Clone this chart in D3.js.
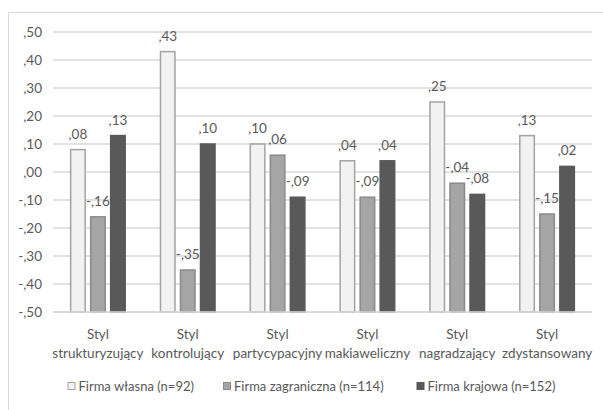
<!DOCTYPE html>
<html>
<head>
<meta charset="utf-8">
<script src="https://cdn.jsdelivr.net/npm/d3@7"></script>
<style>
  html, body { margin: 0; padding: 0; background: #fff; }
  svg { display: block; }
  text { font-family: Lato, "Open Sans", sans-serif; font-weight: 400; }
</style>
</head>
<body>
<svg id="chart" width="603" height="410"></svg>
<script>
// Leadership styles by firm type (mean scores)
const categories = ["strukturyzujący", "kontrolujący", "partycypacyjny", "makiaweliczny", "nagradzający", "zdystansowany"];
const categoryPrefix = "Styl";
const seriesNames = ["Firma własna (n=92)", "Firma zagraniczna (n=114)", "Firma krajowa (n=152)"];
const firmaWlasna = [0.08, 0.43, 0.10, 0.04, 0.25, 0.13];
const firmaZagraniczna = [-0.16, -0.35, 0.06, -0.09, -0.04, -0.15];
const firmaKrajowa = [0.13, 0.10, -0.09, 0.04, -0.08, 0.02];
const yTicks = [-0.5, -0.4, -0.3, -0.2, -0.1, 0, 0.1, 0.2, 0.3, 0.4, 0.5];

const seriesValues = [firmaWlasna, firmaZagraniczna, firmaKrajowa];
const fills = ["#f2f2f2", "#a5a5a5", "#595959"];
const strokes = ["#a3a3a3", "#8a8a8a", "#595959"];
const textColor = "#595959";

// Polish-style number format: ",43", "-,16", ",00"
const fmt = v => {
  const s = Math.abs(v).toFixed(2).replace(/^0/, "").replace(".", ",");
  return (v < 0 ? "-" : "") + s;
};

const svg = d3.select("#chart");

// Outer chart frame (left and top edges visible)
svg.append("path")
  .attr("d", "M8.5,410 L8.5,12.5 L603,12.5")
  .attr("fill", "none").attr("stroke", "#d9d9d9").attr("stroke-width", 1);

const plot = { left: 53, right: 592, top: 32, bottom: 312 };

const y = d3.scaleLinear().domain([-0.5, 0.5]).range([plot.bottom, plot.top]);
const x0 = d3.scaleBand().domain(categories).range([plot.left, plot.right])
  .paddingInner(0.376).paddingOuter(0.188);
const x1 = d3.scaleBand().domain(d3.range(seriesNames.length)).range([0, x0.bandwidth()])
  .paddingInner(0.2);

// Gridlines
svg.append("g").selectAll("line").data(yTicks).join("line")
  .attr("x1", plot.left).attr("x2", plot.right)
  .attr("y1", d => y(d)).attr("y2", d => y(d))
  .attr("stroke", "#d9d9d9").attr("stroke-width", 1.3);

// Y axis labels
const yAxis = d3.axisLeft(y).tickValues(yTicks).tickFormat(fmt).tickSize(0).tickPadding(0);
const yg = svg.append("g").attr("transform", `translate(42,0)`).call(yAxis);
yg.select(".domain").remove();
yg.selectAll("text").attr("font-size", 13.5).attr("fill", textColor)
  .style("font-family", 'Lato, "Open Sans", sans-serif').style("font-weight", 400);

// Bars grow up from the axis floor (-0.50)
const base = y.domain()[0];
const groups = svg.append("g").selectAll("g").data(categories).join("g")
  .attr("transform", d => `translate(${x0(d)},0)`);

groups.each(function (c, ci) {
  const g = d3.select(this);
  const data = seriesValues.map((vals, si) => ({ si, v: vals[ci] }));
  g.selectAll("rect").data(data).join("rect")
    .attr("x", d => x1(d.si) + 0.75)
    .attr("width", x1.bandwidth() - 1.5)
    .attr("y", d => y(d.v))
    .attr("height", d => y(base) - y(d.v))
    .attr("fill", d => fills[d.si])
    .attr("stroke", d => strokes[d.si])
    .attr("stroke-width", 1.5);
  g.selectAll("text.val").data(data).join("text")
    .attr("class", "val")
    .attr("x", d => x1(d.si) + x1.bandwidth() / 2)
    .attr("y", d => y(d.v) - 11)
    .attr("text-anchor", "middle")
    .attr("font-size", 13.5)
    .attr("fill", textColor)
    .text(d => fmt(d.v));
});

// Baseline axis line
svg.append("line")
  .attr("x1", plot.left).attr("x2", plot.right)
  .attr("y1", y(base)).attr("y2", y(base))
  .attr("stroke", "#d9d9d9").attr("stroke-width", 1.3);

// Category labels (two lines)
const cx = d => x0(d) + x0.bandwidth() / 2;
const xl = svg.append("g").selectAll("text").data(categories).join("text")
  .attr("x", cx)
  .attr("text-anchor", "middle")
  .attr("font-size", 13.5)
  .attr("fill", textColor);
xl.append("tspan").attr("x", cx).attr("y", 339).text(categoryPrefix);
xl.append("tspan").attr("x", cx).attr("y", 358).text(d => d);

// Legend
const legendX = [67.5, 223, 416.5];
const lg = svg.append("g").selectAll("g").data(seriesNames).join("g")
  .attr("transform", (d, i) => `translate(${legendX[i]},382)`);
lg.append("rect").attr("x", 0.5).attr("y", 0.5).attr("width", 7).attr("height", 7)
  .attr("fill", (d, i) => fills[i]).attr("stroke", (d, i) => strokes[i]).attr("stroke-width", 1);
lg.append("text").attr("x", 11).attr("y", 9).attr("font-size", 13).attr("fill", textColor)
  .text(d => d);
</script>
</body>
</html>
